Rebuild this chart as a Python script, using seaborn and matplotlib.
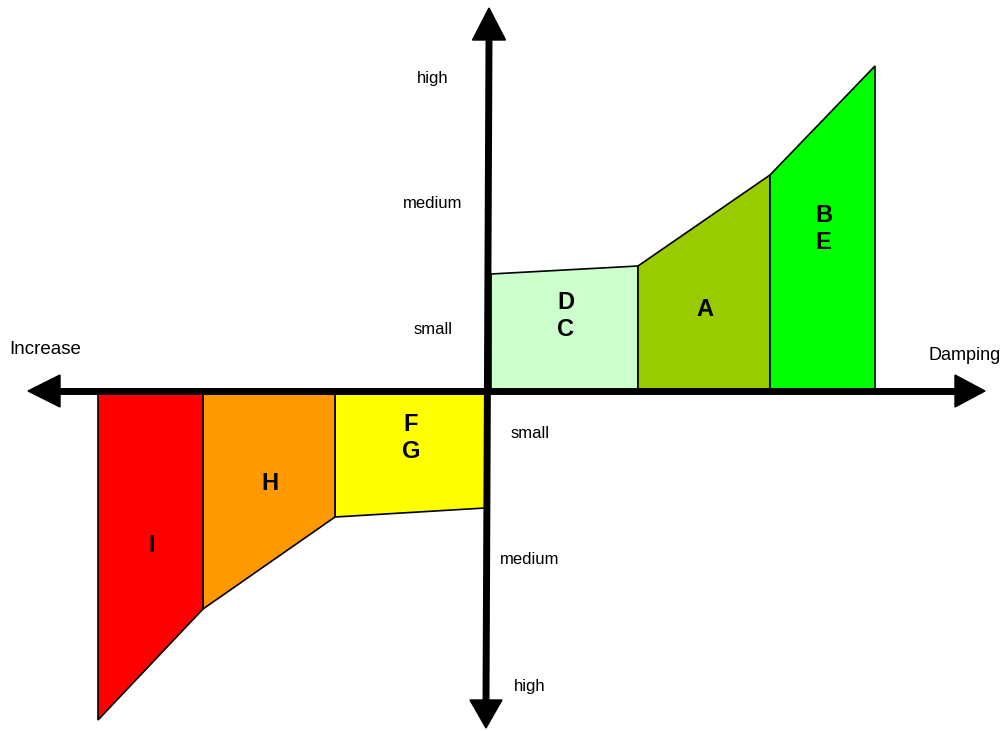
import numpy as np
import pandas as pd
import matplotlib.pyplot as plt
import seaborn as sns

sns.set_theme(style="white")
plt.rcParams['font.family'] = ['Liberation Sans', 'DejaVu Sans']
plt.rcParams['text.color'] = 'black'

# --- zones: width along the damping/increase axis, height at each side ---
zone_names = ["DC", "A", "BE", "FG", "H", "I"]
zone_labels = ["D\nC", "A", "B\nE", "F\nG", "H", "I"]
x_start = [3, 150, 282, -3, -153, -285]
x_end = [150, 282, 387, -153, -285, -390]
h_start = [117, 125, 216, -117, -126, -218]
h_end = [125, 216, 325, -126, -218, -329]
zone_colors = ["#CCFFCC", "#99CC00", "#00FF00", "#FFFF00", "#FF9900", "#FF0000"]
label_y = [76, 82, 163, -46, -92, -153]

# magnitude levels on the vertical axis
level_names = ["small", "medium", "high"]
level_up = [62, 188, 313]
level_down = [-43, -169, -295]

zones = pd.DataFrame({"name": zone_names, "label": zone_labels,
                      "x0": x_start, "x1": x_end, "h0": h_start, "h1": h_end,
                      "color": zone_colors, "ly": label_y})

fig = plt.figure(figsize=(10.04, 7.31), dpi=100)
ax = fig.add_axes([0, 0, 1, 1])
ax.set_xlim(-488, 516)
ax.set_ylim(-340, 391)
ax.axis('off')

# filled zones
for _, z in zones.iterrows():
    xs = [z.x0, z.x1, z.x1, z.x0]
    ys = [0, 0, z.h1, z.h0]
    ax.fill(xs, ys, facecolor=z.color, edgecolor='black', linewidth=1.2, zorder=2)
    ax.text((z.x0 + z.x1) / 2 + 1, z.ly - 1, z.label, ha='center', va='center',
            fontsize=17, fontweight='bold', linespacing=1.25, color='black', zorder=4)

# axes with arrow heads
lw = 5
ax.plot([-430, 467], [0, 0], color='black', linewidth=lw, solid_capstyle='butt', zorder=3)
ax.plot([1, -2], [352, -309], color='black', linewidth=lw, solid_capstyle='butt', zorder=3)
ax.fill([-460, -428, -428], [0, 16, -16], color='black', zorder=3)
ax.fill([497, 467, 467], [0, 16, -16], color='black', zorder=3)
ax.fill([1, -15.5, 17.5], [383, 351, 351], color='black', zorder=3)
ax.fill([-2, -18, 14], [-337, -309, -309], color='black', zorder=3)

# level labels
for name, yu, yd in zip(level_names, level_up, level_down):
    ax.text(-55, yu, name, ha='center', va='center', fontsize=12, color='black')
    ax.text(42, yd, name, ha='center', va='center', fontsize=12, color='black')

ax.text(-443, 41, "Increase", ha='center', va='center', fontsize=13.5, color='black')
ax.text(477, 35, "Damping", ha='center', va='center', fontsize=13, color='black')

plt.savefig('out.png', dpi=100)
plt.close()
